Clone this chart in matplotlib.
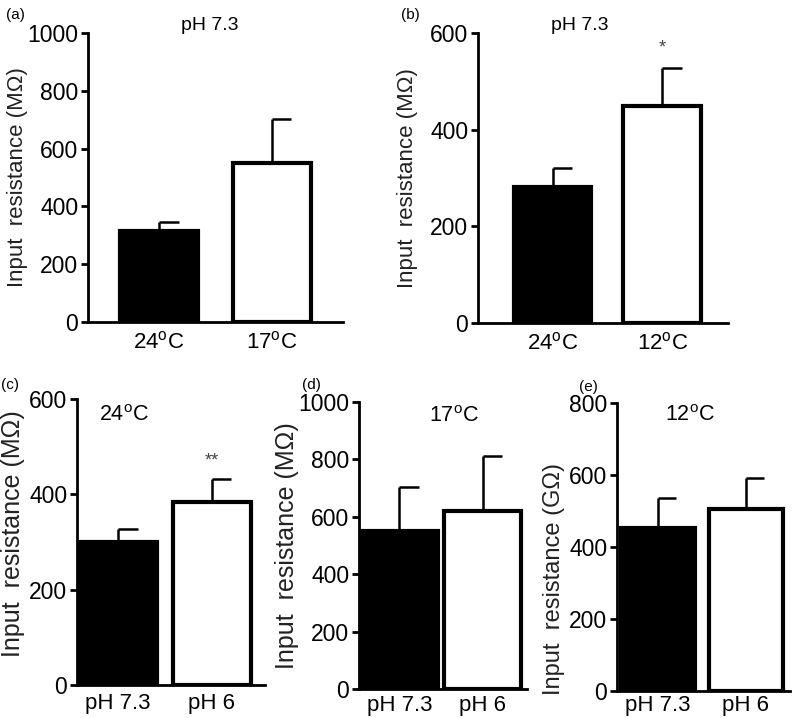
import numpy as np
import matplotlib
matplotlib.use("Agg")
import matplotlib.pyplot as plt

plt.rcParams['font.family'] = ['Liberation Sans', 'DejaVu Sans']
plt.rcParams['mathtext.fontset'] = 'custom'
plt.rcParams['mathtext.rm'] = 'Liberation Sans'
plt.rcParams['mathtext.it'] = 'Liberation Sans'

# dados (média e erro padrão)
labels_a = ['24$^{\\rm o}$C', '17$^{\\rm o}$C']
mean_a = [315, 550]
sem_a = [31, 152]

labels_b = ['24$^{\\rm o}$C', '12$^{\\rm o}$C']
mean_b = [281, 449]
sem_b = [40, 79]

labels_ph = ['pH 7.3', 'pH 6']
mean_c = [300, 384]
sem_c = [27, 48]
mean_d = [550, 620]
sem_d = [154, 192]
mean_e = [453, 506]
sem_e = [83, 86]

W, H = 793, 718
fig = plt.figure(figsize=(W / 100, H / 100), dpi=100)


def painel(box, xlim, width, means, sems, xlabels, ymax, ylabel, title,
           title_xy, title_size, letter, letter_xy, lab_xy, lab_size, xpad,
           stars=None, star_off=10):
    l, t, r, b = box
    ax = fig.add_axes([l / W, 1 - b / H, (r - l) / W, (b - t) / H])
    x = np.arange(len(means))
    ax.bar(x, means, width=width, color=['black', 'white'], edgecolor='black',
           linewidth=3, zorder=3)
    # barra de erro só para cima, com meia tampa à direita
    tops = np.array(means) + np.array(sems)
    ax.vlines(x, means, tops, color='black', linewidth=1.8, zorder=2)
    ax.hlines(tops, x, x + width * 0.25, color='black', linewidth=1.8, zorder=2)
    ax.set_xlim(*xlim)
    ax.set_ylim(0, ymax)
    ax.set_yticks(np.arange(0, ymax + 1, 200))
    ax.set_xticks(x)
    ax.set_xticklabels(xlabels)
    ax.tick_params(axis='y', labelsize=16.5, length=5, width=2, pad=2)
    ax.tick_params(axis='x', labelsize=16, length=0, pad=xpad)
    for s in ['top', 'right']:
        ax.spines[s].set_visible(False)
    for s in ['left', 'bottom']:
        ax.spines[s].set_linewidth(2)
    ax.set_ylabel(ylabel, fontsize=lab_size, color='#222222')
    ax.yaxis.set_label_coords(*lab_xy)
    fig.text(title_xy[0] / W, 1 - title_xy[1] / H, title, fontsize=title_size,
             ha='center', va='center')
    fig.text(letter_xy[0] / W, 1 - letter_xy[1] / H, letter, fontsize=11,
             ha='left', va='center')
    if stars:
        ax.annotate(stars, (1, tops[1]), xytext=(0, star_off), textcoords='offset points',
                    ha='center', va='bottom', fontsize=13, color='#444444')
    return ax


painel((88, 33, 343, 322), (-0.63, 1.63), 0.69, mean_a, sem_a, labels_a, 1000,
       'Input  resistance (M\u03a9)', 'pH 7.3', (210, 25), 14, '(a)', (6, 15),
       (-0.235, 0.5), 16, 7)
painel((478, 33, 728, 323), (-0.68, 1.6), 0.71, mean_b, sem_b, labels_b, 600,
       'Input  resistance (M\u03a9)', 'pH 7.3', (580, 25), 14, '(b)', (401, 15),
       (-0.24, 0.5), 16, 7, stars='*', star_off=8)
painel((77, 399, 265, 685), (-0.44, 1.57), 0.83, mean_c, sem_c, labels_ph, 600,
       'Input  resistance (M\u03a9)', '24$^{\\rm o}$C', (124, 415), 15.5, '(c)', (1, 385),
       (-0.275, 0.53), 18, 6, stars='**', star_off=7)
painel((359, 402, 527, 689), (-0.485, 1.53), 0.92, mean_d, sem_d, labels_ph, 1000,
       'Input  resistance (M\u03a9)', '17$^{\\rm o}$C', (454, 417), 15.5, '(d)', (302, 385),
       (-0.36, 0.5), 18, 4)
painel((617, 403, 790, 691), (-0.46, 1.5), 0.84, mean_e, sem_e, labels_ph, 800,
       'Input  resistance (G\u03a9)', '12$^{\\rm o}$C', (690, 415), 15.5, '(e)', (579, 387),
       (-0.30, 0.39), 17, 3)

fig.savefig('out.png', dpi=100)
